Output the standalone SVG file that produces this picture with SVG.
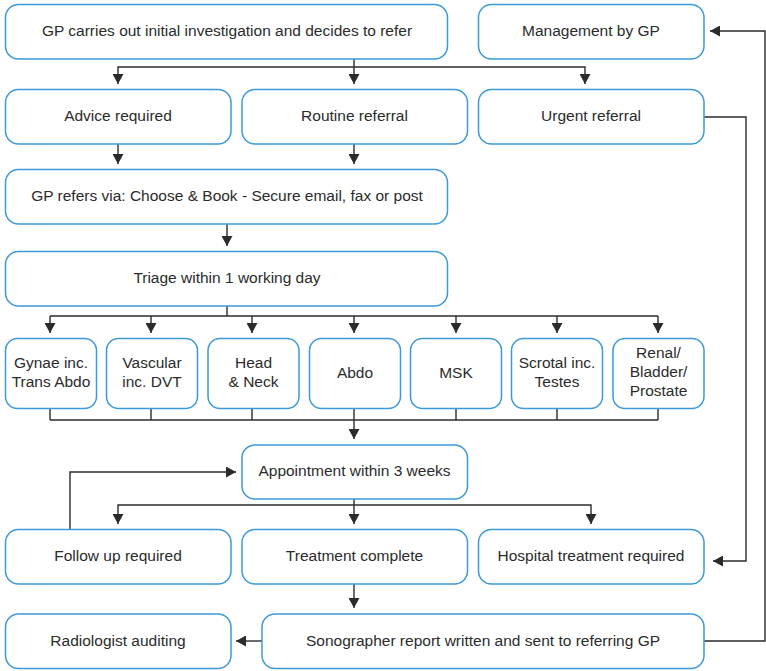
<svg xmlns="http://www.w3.org/2000/svg" width="766" height="671" viewBox="0 0 766 671">
<defs>
<marker id="ah" viewBox="0 0 10 11" refX="10" refY="5.5" markerWidth="10" markerHeight="11" markerUnits="userSpaceOnUse" orient="auto">
<path d="M0,0 L10,5.5 L0,11 z" fill="#2b2b2b"/>
</marker>
<style>
.box{fill:#fff;stroke:#3d9ad8;stroke-width:1.5}
.t{font-family:"Liberation Sans",Arial,sans-serif;font-size:15.5px;fill:#2b2b2b;text-anchor:middle}
.c{fill:none;stroke:#2b2b2b;stroke-width:1.4}
.a{marker-end:url(#ah)}
</style>
</defs>
<rect width="766" height="671" fill="#fff"/>
<g id="connectors">
<path class="c a" d="M354,59 V84"/>
<path class="c a" d="M354,67 H118 V84"/>
<path class="c a" d="M354,67 H585 V84"/>
<path class="c a" d="M118,144 V164"/>
<path class="c a" d="M354,144 V164"/>
<path class="c a" d="M227,224 V246"/>
<path class="c" d="M227,306 V316 M50,316 H658"/>
<path class="c a" d="M50,316 V333"/>
<path class="c a" d="M151,316 V333"/>
<path class="c a" d="M252,316 V333"/>
<path class="c a" d="M354,316 V333"/>
<path class="c a" d="M456,316 V333"/>
<path class="c a" d="M557,316 V333"/>
<path class="c a" d="M658,316 V333"/>
<path class="c" d="M50,408 V420 M151,408 V420 M252,408 V420 M456,408 V420 M557,408 V420 M658,408 V420 M50,420 H658"/>
<path class="c a" d="M354,408 V439"/>
<path class="c a" d="M354,499 V524"/>
<path class="c a" d="M354,505 H118 V524"/>
<path class="c a" d="M354,505 H591 V524"/>
<path class="c a" d="M70,529 V472 H236"/>
<path class="c a" d="M354,584 V608"/>
<path class="c a" d="M262,641 H236"/>
<path class="c a" d="M704,641 H765 V31 H710"/>
<path class="c a" d="M704,117 H746 V561 H713"/>
</g>
<g id="n-gp">
<rect class="box" x="5.5" y="4.5" width="442" height="54.5" rx="13"/>
<text class="t" x="227" y="36">GP carries out initial investigation and decides to refer</text>
</g>
<g id="n-mgmt">
<rect class="box" x="478.5" y="4.5" width="225.5" height="54.5" rx="13"/>
<text class="t" x="591" y="36">Management by GP</text>
</g>
<g id="n-advice">
<rect class="box" x="5.5" y="89.5" width="225.5" height="54.5" rx="13"/>
<text class="t" x="118" y="120.5">Advice required</text>
</g>
<g id="n-routine">
<rect class="box" x="242" y="89.5" width="225.5" height="54.5" rx="13"/>
<text class="t" x="354.5" y="120.5">Routine referral</text>
</g>
<g id="n-urgent">
<rect class="box" x="478.5" y="89.5" width="225.5" height="54.5" rx="13"/>
<text class="t" x="591" y="120.5">Urgent referral</text>
</g>
<g id="n-refers">
<rect class="box" x="5.5" y="169.5" width="442" height="54.5" rx="13"/>
<text class="t" x="227" y="200.5">GP refers via: Choose &amp; Book - Secure email, fax or post</text>
</g>
<g id="n-triage">
<rect class="box" x="5.5" y="251.5" width="442" height="54.5" rx="13"/>
<text class="t" x="227" y="282.5">Triage within 1 working day</text>
</g>
<g id="n-gynae">
<rect class="box" x="5.5" y="338.5" width="91" height="70" rx="12"/>
<text class="t" x="51" y="367.5">Gynae inc.</text>
<text class="t" x="51" y="386.5">Trans Abdo</text>
</g>
<g id="n-vascular">
<rect class="box" x="106.5" y="338.5" width="91" height="70" rx="12"/>
<text class="t" x="152" y="367.5">Vascular</text>
<text class="t" x="152" y="386.5">inc. DVT</text>
</g>
<g id="n-head">
<rect class="box" x="208" y="338.5" width="91" height="70" rx="12"/>
<text class="t" x="253.5" y="367.5">Head</text>
<text class="t" x="253.5" y="386.5">&amp; Neck</text>
</g>
<g id="n-abdo">
<rect class="box" x="309.5" y="338.5" width="91" height="70" rx="12"/>
<text class="t" x="355" y="377.5">Abdo</text>
</g>
<g id="n-msk">
<rect class="box" x="410.5" y="338.5" width="91" height="70" rx="12"/>
<text class="t" x="456" y="377.5">MSK</text>
</g>
<g id="n-scrotal">
<rect class="box" x="511.5" y="338.5" width="91" height="70" rx="12"/>
<text class="t" x="557" y="367.5">Scrotal inc.</text>
<text class="t" x="557" y="386.5">Testes</text>
</g>
<g id="n-renal">
<rect class="box" x="613" y="338.5" width="91" height="70" rx="12"/>
<text class="t" x="658.5" y="357.5">Renal/</text>
<text class="t" x="658.5" y="376.5">Bladder/</text>
<text class="t" x="658.5" y="395.5">Prostate</text>
</g>
<g id="n-appt">
<rect class="box" x="242" y="445" width="225.5" height="54" rx="13"/>
<text class="t" x="354.5" y="475.5">Appointment within 3 weeks</text>
</g>
<g id="n-followup">
<rect class="box" x="5.5" y="529.5" width="225.5" height="54.5" rx="13"/>
<text class="t" x="118" y="560.5">Follow up required</text>
</g>
<g id="n-treatment">
<rect class="box" x="242" y="529.5" width="225.5" height="54.5" rx="13"/>
<text class="t" x="354.5" y="560.5">Treatment complete</text>
</g>
<g id="n-hospital">
<rect class="box" x="478.5" y="529.5" width="225.5" height="54.5" rx="13"/>
<text class="t" x="591" y="560.5">Hospital treatment required</text>
</g>
<g id="n-radiologist">
<rect class="box" x="5.5" y="614" width="225.5" height="54.5" rx="13"/>
<text class="t" x="118" y="645.5">Radiologist auditing</text>
</g>
<g id="n-sonographer">
<rect class="box" x="262" y="614" width="442" height="54.5" rx="13"/>
<text class="t" x="483" y="645.5">Sonographer report written and sent to referring GP</text>
</g>
</svg>
